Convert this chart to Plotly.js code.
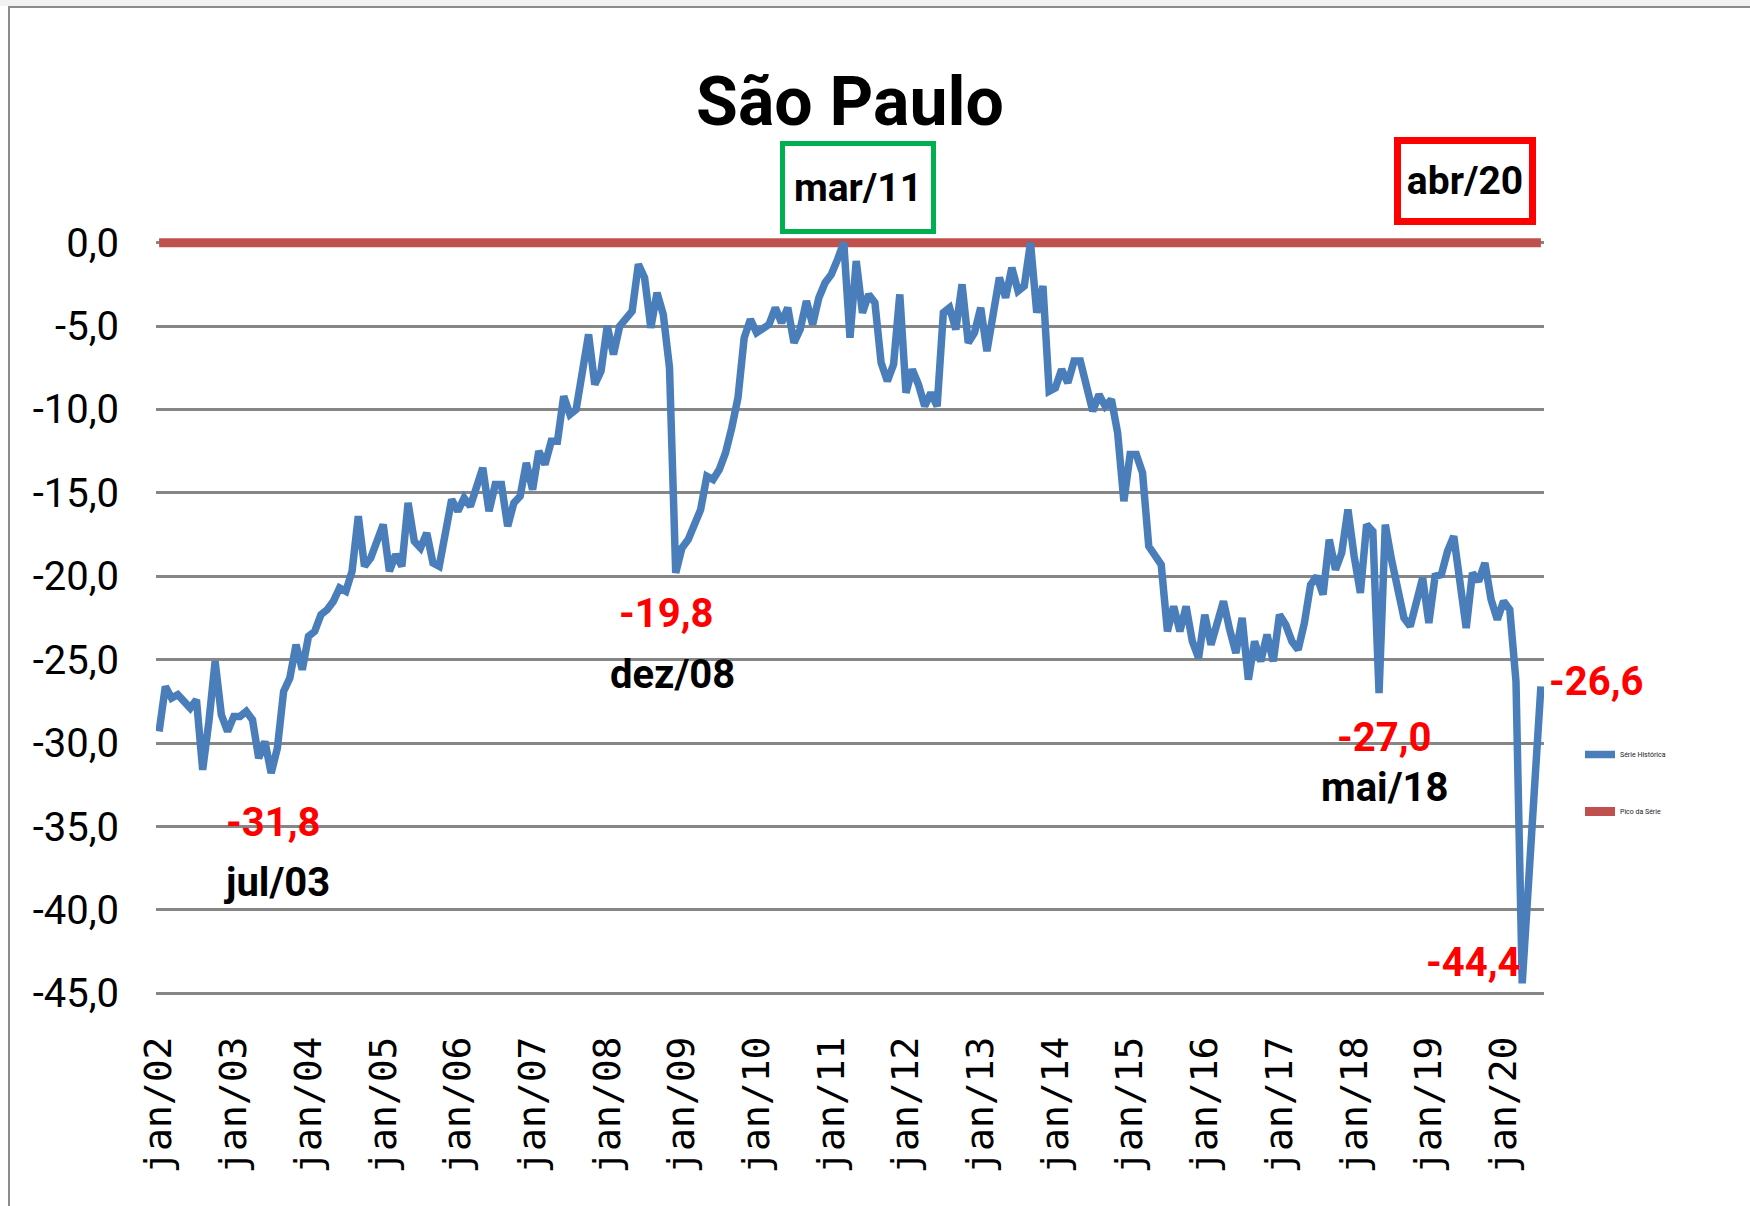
<!DOCTYPE html>
<html>
<head>
<meta charset="utf-8">
<script src="https://cdn.plot.ly/plotly-3.0.1.min.js"></script>
<style>
html,body{margin:0;padding:0;background:#ffffff;}
#chart{width:1750px;height:1206px;}
</style>
</head>
<body>
<div id="chart"></div>
<script>
// ---- Data ----
const monthNames = ['jan','fev','mar','abr','mai','jun','jul','ago','set','out','nov','dez'];
const yearLabels = ['02','03','04','05','06','07','08','09','10','11','12','13','14','15','16','17','18','19','20'];

const v2002 = [-29.3,-26.6,-27.3,-27.1,-27.5,-27.9,-27.4,-31.6,-28.7,-25.1,-28.3,-29.3];
const v2003 = [-28.4,-28.4,-28.1,-28.6,-30.9,-29.9,-31.8,-30.3,-26.9,-26.1,-24.1,-25.6];
const v2004 = [-23.6,-23.3,-22.3,-22.0,-21.5,-20.7,-20.9,-19.7,-16.4,-19.4,-18.9,-17.8];
const v2005 = [-16.9,-19.7,-18.7,-19.4,-15.6,-17.9,-18.3,-17.4,-19.2,-19.4,-17.3,-15.4];
const v2006 = [-16.1,-15.3,-15.8,-14.6,-13.5,-16.1,-14.5,-14.5,-17.0,-15.6,-15.2,-13.2];
const v2007 = [-14.8,-12.5,-13.3,-11.9,-11.9,-9.2,-10.3,-10.0,-7.4,-5.5,-8.5,-7.7];
const v2008 = [-5.0,-6.7,-5.0,-4.5,-4.1,-1.3,-2.1,-5.1,-3.0,-4.3,-7.5,-19.8];
const v2009 = [-18.3,-17.8,-17.0,-16.0,-14.0,-14.2,-13.6,-12.6,-11.1,-9.3,-5.7,-4.6];
const v2010 = [-5.4,-5.2,-4.9,-3.9,-4.8,-3.9,-6.0,-5.2,-3.5,-4.9,-3.3,-2.4];
const v2011 = [-1.9,-1.0,0.0,-5.7,-1.1,-4.2,-3.1,-3.6,-7.2,-8.3,-7.3,-3.1];
const v2012 = [-9.0,-7.6,-8.5,-9.8,-9.0,-9.8,-4.2,-3.9,-5.2,-2.5,-6.0,-5.4];
const v2013 = [-3.9,-6.5,-4.4,-2.1,-3.3,-1.5,-2.9,-2.6,0.0,-4.2,-2.6,-8.9];
const v2014 = [-8.7,-7.6,-8.4,-7.1,-7.1,-8.8,-10.1,-9.1,-9.8,-9.4,-11.4,-15.5];
const v2015 = [-12.7,-12.7,-13.8,-18.2,-18.8,-19.3,-23.3,-21.8,-23.3,-21.8,-23.9,-24.9];
const v2016 = [-22.3,-24.1,-22.8,-21.5,-23.2,-24.6,-22.5,-26.2,-23.9,-25.1,-23.5,-25.1];
const v2017 = [-22.3,-22.9,-23.9,-24.4,-22.8,-20.5,-20.0,-21.1,-17.8,-19.6,-18.6,-16.0];
const v2018 = [-18.8,-21.0,-16.9,-17.3,-27.0,-16.9,-19.0,-20.8,-22.5,-23.0,-21.5,-20.1];
const v2019 = [-22.8,-20.0,-19.9,-18.5,-17.6,-20.3,-23.1,-19.8,-20.3,-19.2,-21.4,-22.6];
const v2020 = [-21.5,-22.0,-26.3,-44.4,-38.5,-32.6,-26.6];

const serieHistorica = [].concat(v2002,v2003,v2004,v2005,v2006,v2007,v2008,v2009,v2010,
  v2011,v2012,v2013,v2014,v2015,v2016,v2017,v2018,v2019,v2020);
const picoDaSerie = 0.0;

const yTickVals = [0,-5,-10,-15,-20,-25,-30,-35,-40,-45];
const yTickText = ['0,0','-5,0','-10,0','-15,0','-20,0','-25,0','-30,0','-35,0','-40,0','-45,0'];

const seriesNames = ['Série Histórica', 'Pico da Série'];
const chartTitle = 'São Paulo';
const highlightMax = 'mar/11';
const highlightMin = 'abr/20';

// ---- Derived labels ----
const categories = [];
yearLabels.forEach(y => monthNames.forEach(m => {
  if (categories.length < serieHistorica.length) categories.push(m + '/' + y);
}));
const xTickVals = categories.filter(c => c.startsWith('jan/'));
const fmt = v => v.toFixed(1).replace('.', ',');
const valueAt = c => serieHistorica[categories.indexOf(c)];

const FONT = 'Roboto, "Liberation Sans", sans-serif';

const traces = [
  {
    x: categories, y: categories.map(() => picoDaSerie),
    type: 'scatter', mode: 'lines', name: seriesNames[1], legendrank: 2,
    legendgroup: 'b',
    line: {color: '#c0504d', width: 9}, hoverinfo: 'skip'
  },
  {
    x: categories, y: serieHistorica,
    type: 'scatter', mode: 'lines', name: seriesNames[0], legendrank: 1,
    legendgroup: 'a',
    line: {color: '#4a7ebb', width: 7.5}
  }
];

// callouts anchored on data points; shifts in pixels (positive yshift = up)
const callouts = [
  {c: 'jul/03', dx: 2,   dy: -49, date: true,  ddx: 6,  ddy: -109},
  {c: 'dez/08', dx: -10, dy: -41, date: true,  ddx: -3, ddy: -102},
  {c: 'mai/18', dx: 5,   dy: -44, date: true,  ddx: 5,  ddy: -94},
  {c: 'abr/20', dx: -49, dy: 21,  date: false},
  {c: categories[categories.length - 1], dx: 55, dy: 5, date: false}
];

const annotations = [];
callouts.forEach(o => {
  const v = valueAt(o.c);
  annotations.push({
    x: o.c, y: v, xref: 'x', yref: 'y', text: fmt(v), showarrow: false,
    xshift: o.dx, yshift: o.dy, xanchor: 'center', yanchor: 'middle',
    font: {family: FONT, size: 40, color: '#ff0000', weight: 'bold'}
  });
  if (o.date) {
    annotations.push({
      x: o.c, y: v, xref: 'x', yref: 'y', text: o.c, showarrow: false,
      xshift: o.ddx, yshift: o.ddy, xanchor: 'center', yanchor: 'middle',
      font: {family: FONT, size: 40, color: '#000000', weight: 'bold'}
    });
  }
});

const W = 1750, H = 1206, L = 156, R = 206, T = 236, B = 206;
const pw = W - L - R, ph = H - T - B;
const px2x = px => (px - L) / pw;
const py2y = py => (H - B - py) / ph;

annotations.push({
  x: highlightMax, xref: 'x', y: py2y(188), yref: 'paper', xshift: 14,
  text: highlightMax, showarrow: false, xanchor: 'center', yanchor: 'middle',
  width: 146, height: 83, borderpad: 0, borderwidth: 5, bordercolor: '#00b050',
  bgcolor: '#ffffff',
  font: {family: FONT, size: 39, color: '#000000', weight: 'bold'}
});
annotations.push({
  x: highlightMin, xref: 'x', y: py2y(181), yref: 'paper', xshift: -57,
  text: highlightMin, showarrow: false, xanchor: 'center', yanchor: 'middle',
  width: 128, height: 74, borderpad: 0, borderwidth: 7, bordercolor: '#ff0000',
  bgcolor: '#ffffff',
  font: {family: FONT, size: 39, color: '#000000', weight: 'bold'}
});

const layout = {
  width: W, height: H,
  margin: {l: L, r: R, t: T, b: B, pad: 0},
  paper_bgcolor: '#ffffff', plot_bgcolor: '#ffffff',
  title: {
    text: '<b>' + chartTitle + '</b>',
    font: {family: FONT, size: 68, color: '#000000'},
    x: 0.5, xref: 'paper', xanchor: 'center',
    y: 1 - 101 / H, yref: 'container', yanchor: 'middle'
  },
  showlegend: true,
  legend: {
    x: px2x(1580), y: py2y(740), xanchor: 'left', yanchor: 'top',
    font: {family: FONT, size: 7, color: '#222222'},
    tracegroupgap: 38, bgcolor: 'rgba(0,0,0,0)'
  },
  xaxis: {
    type: 'category', range: [-0.5, categories.length - 0.5],
    tickmode: 'array', tickvals: xTickVals, ticktext: xTickVals,
    tickangle: -90, ticks: '', showgrid: false, zeroline: false, showline: false,
    ticklabelstandoff: 28,
    tickfont: {family: '"DejaVu Sans Mono", monospace', size: 38, color: '#000000'}
  },
  yaxis: {
    range: [-45.4, 0.4], tickmode: 'array', tickvals: yTickVals, ticktext: yTickText,
    showgrid: true, gridcolor: '#868686', gridwidth: 3,
    zeroline: false, showline: false, ticks: '',
    ticklabelstandoff: 36,
    tickfont: {family: FONT, size: 40, color: '#000000'}
  },
  annotations: annotations,
  shapes: [
    {type: 'rect', xref: 'paper', yref: 'paper',
     x0: px2x(0), x1: px2x(W + 20), y0: py2y(0), y1: py2y(6),
     fillcolor: '#f2f2f2', line: {width: 0}, layer: 'below'},
    {type: 'rect', xref: 'paper', yref: 'paper',
     x0: px2x(9), x1: px2x(W + 20), y0: py2y(7), y1: py2y(H + 20),
     fillcolor: 'rgba(0,0,0,0)', line: {color: '#8c8c8c', width: 2}, layer: 'below'}
  ]
};

Plotly.newPlot('chart', traces, layout, {displayModeBar: false, staticPlot: true});
</script>
</body>
</html>
